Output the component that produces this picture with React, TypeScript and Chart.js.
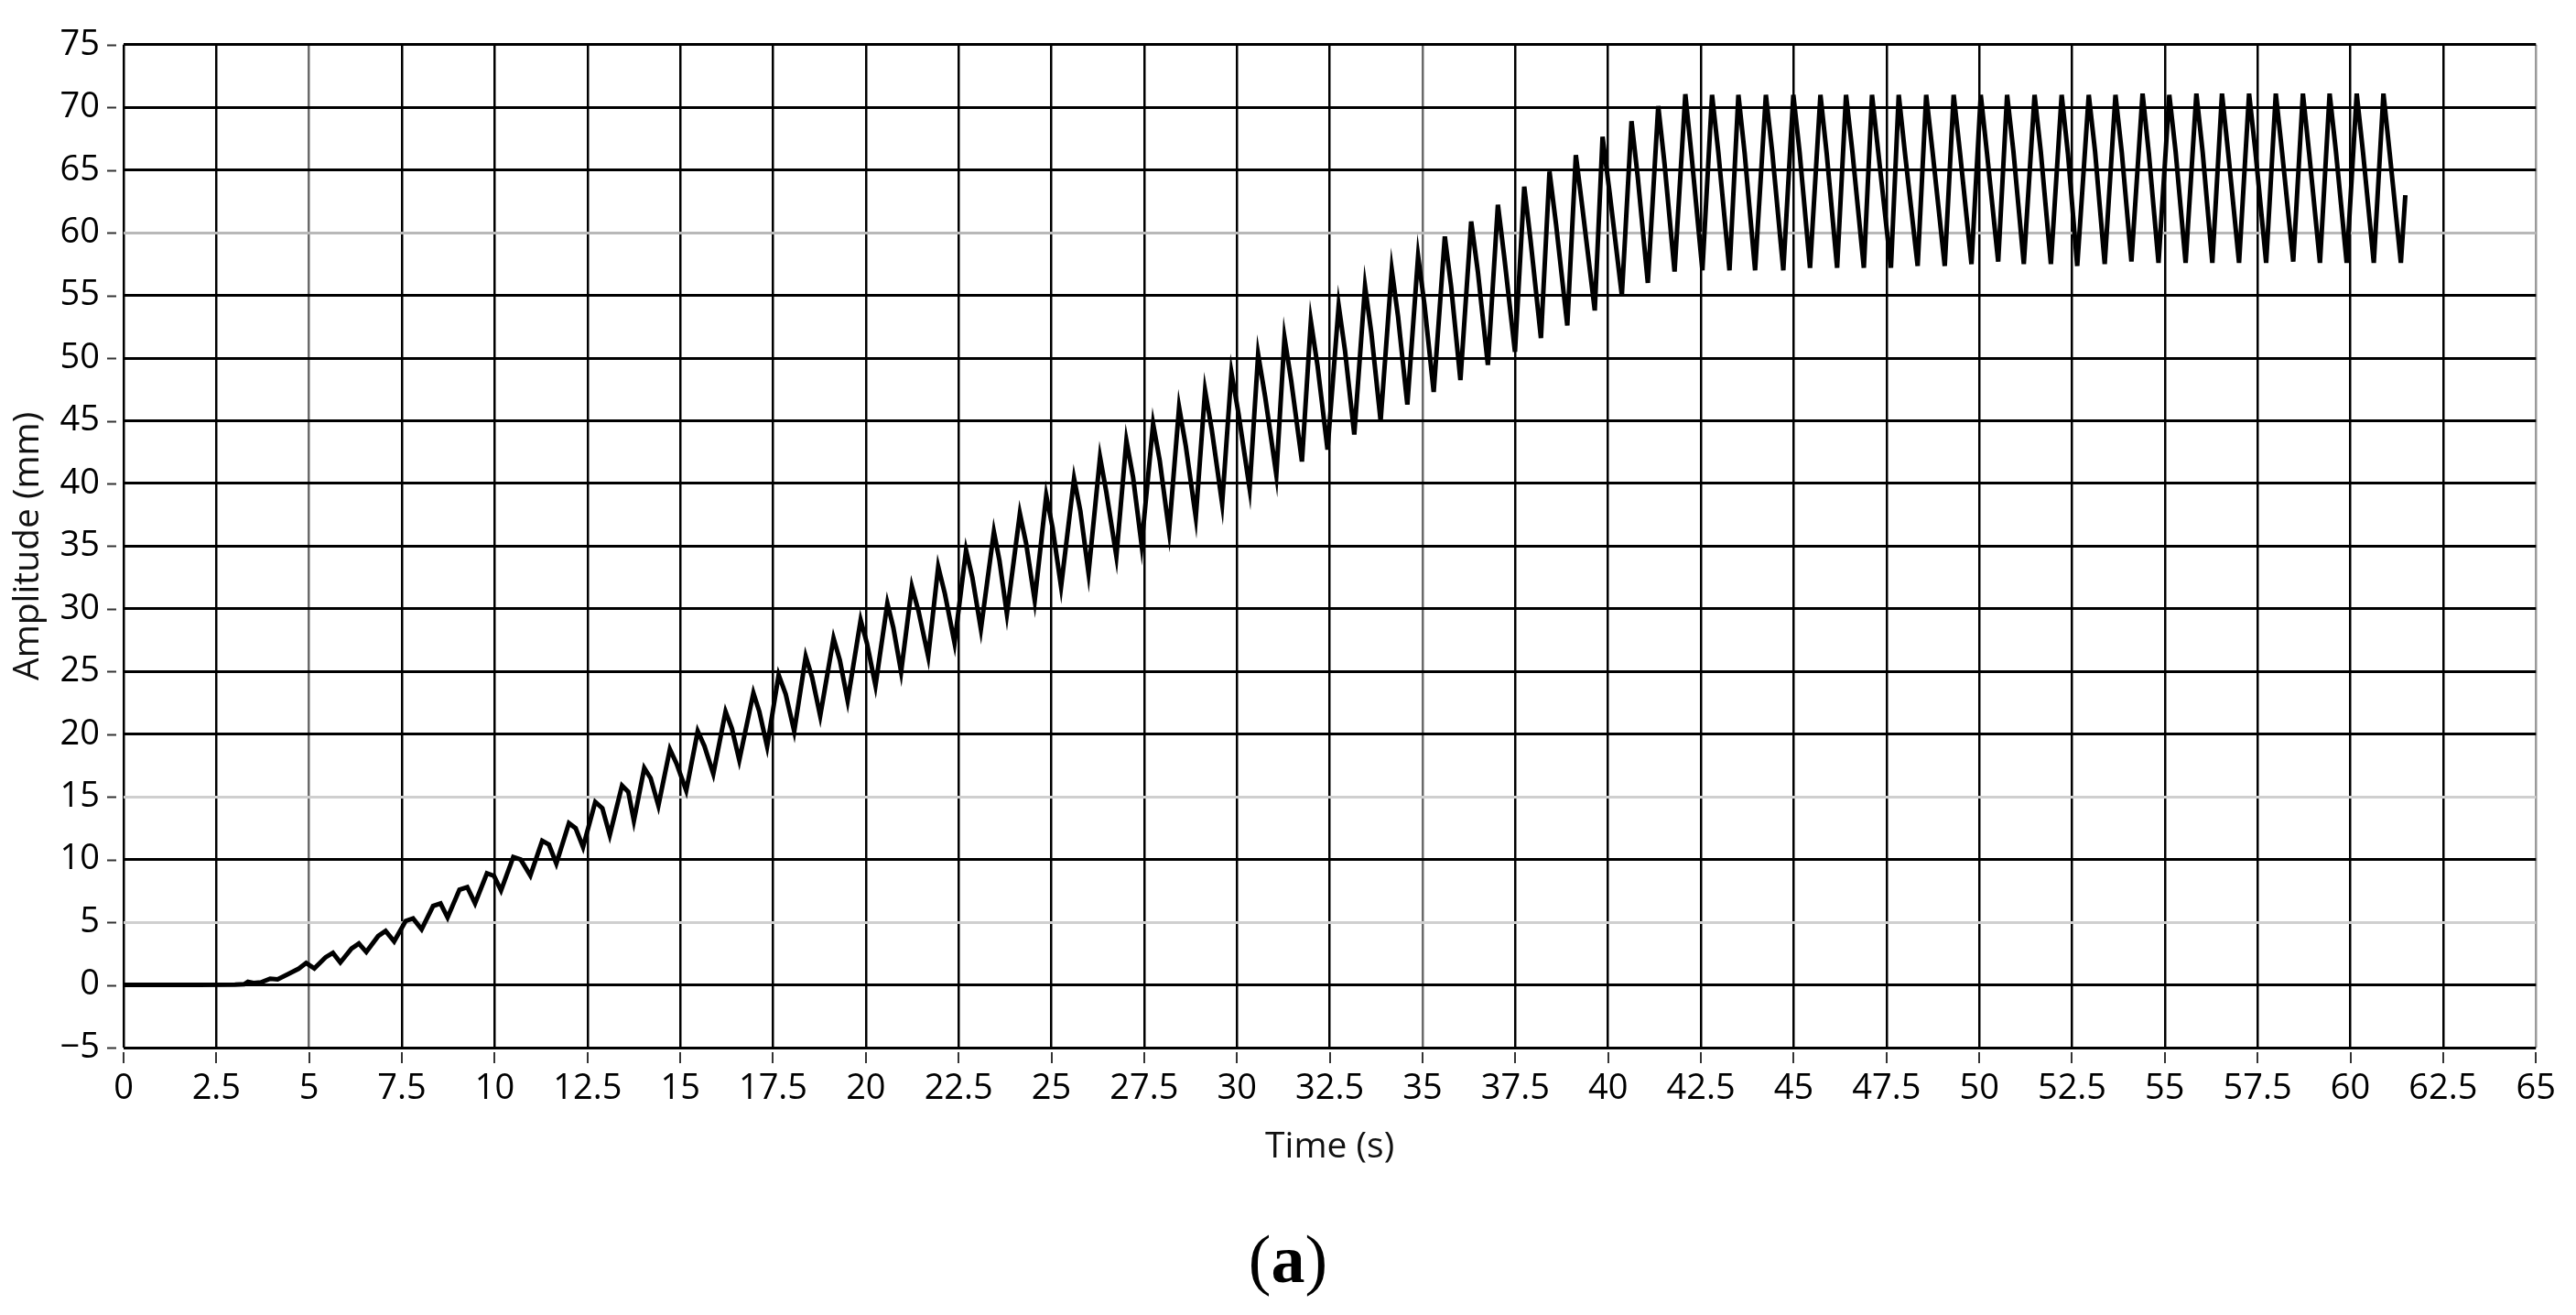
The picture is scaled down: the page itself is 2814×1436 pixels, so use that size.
import React, { useEffect, useRef } from 'react';
import { Chart, registerables } from 'chart.js';

Chart.register(...registerables);

// ---- axis ticks ----
const xTickValues = [0, 2.5, 5, 7.5, 10, 12.5, 15, 17.5, 20, 22.5, 25, 27.5, 30, 32.5, 35, 37.5, 40, 42.5, 45, 47.5, 50, 52.5, 55, 57.5, 60, 62.5, 65];
const xTickLabels = ['0', '2.5', '5', '7.5', '10', '12.5', '15', '17.5', '20', '22.5', '25', '27.5', '30', '32.5', '35', '37.5', '40', '42.5', '45', '47.5', '50', '52.5', '55', '57.5', '60', '62.5', '65'];
const yTickValues = [-5, 0, 5, 10, 15, 20, 25, 30, 35, 40, 45, 50, 55, 60, 65, 70, 75];
const yTickLabels = ['\u22125', '0', '5', '10', '15', '20', '25', '30', '35', '40', '45', '50', '55', '60', '65', '70', '75'];

// ---- signal (vertices: trough, peak, shoulder per cycle) ----
const onsetTime = [0, 1, 2, 3, 3.25, 3.35, 3.5, 3.7, 3.95, 4.15, 4.42, 4.72, 4.92];
const onsetAmp = [0, 0, 0, 0.02, 0.05, 0.25, 0.15, 0.2, 0.5, 0.45, 0.85, 1.3, 1.75];

const growthTime = [
  5.14, 5.44, 5.64, 5.84, 6.14, 6.34, 6.54, 6.86, 7.06, 7.29, 7.6, 7.8,
  8.03, 8.34, 8.54, 8.73, 9.05, 9.26, 9.47, 9.79, 9.98, 10.17, 10.5, 10.7,
  10.96, 11.28, 11.46, 11.66, 12.0, 12.18, 12.38, 12.71, 12.9, 13.1, 13.43, 13.6,
  13.75, 14.03, 14.2, 14.41, 14.72, 14.9, 15.16, 15.47, 15.65, 15.89, 16.22, 16.39,
  16.59, 16.97, 17.13, 17.34, 17.65, 17.84, 18.07, 18.38, 18.55, 18.77, 19.13, 19.3,
  19.51, 19.86, 20.03, 20.26, 20.58, 20.74, 20.95, 21.24, 21.42, 21.68, 21.95, 22.13,
  22.39, 22.7, 22.87, 23.1, 23.45, 23.6, 23.8, 24.15, 24.32, 24.55, 24.86, 25.03,
  25.26, 25.61, 25.78, 26.0, 26.31, 26.48, 26.75, 27.02, 27.2,
];
const growthAmp = [
  1.32, 2.2, 2.55, 1.79, 2.9, 3.3, 2.63, 3.9, 4.3, 3.47, 5.1, 5.3,
  4.43, 6.3, 6.5, 5.38, 7.6, 7.8, 6.51, 8.9, 8.7, 7.54, 10.2, 10.0,
  8.73, 11.5, 11.2, 9.69, 12.9, 12.5, 11.0, 14.6, 14.1, 11.96, 15.9, 15.4,
  13.1, 17.3, 16.5, 14.3, 18.8, 17.65, 15.5, 20.24, 19.05, 16.84, 21.8, 20.45,
  17.94, 23.28, 21.8, 19.03, 24.73, 23.2, 20.24, 26.2, 24.55, 21.46, 27.65, 25.9,
  22.67, 29.1, 27.25, 23.88, 30.44, 28.5, 24.98, 31.77, 29.8, 26.19, 33.35, 31.2,
  27.28, 34.68, 32.5, 28.37, 36.14, 33.85, 29.59, 37.6, 35.2, 30.68, 39.05, 36.5,
  31.77, 40.39, 37.8, 32.86, 42.09, 39.3, 34.2, 43.42, 40.5,
];

const riseTime = [
  27.43, 27.74, 27.92, 28.17, 28.44, 28.62, 28.89, 29.14, 29.32, 29.6, 29.85, 30.04,
  30.34, 30.57, 30.76, 31.06, 31.28, 31.46, 31.75, 31.99, 32.17, 32.44, 32.74, 32.91,
  33.16, 33.45, 33.62, 33.87, 34.17, 34.34, 34.59, 34.88, 35.05, 35.3, 35.6, 35.77,
  36.02, 36.31, 36.49, 36.76, 37.03, 37.2, 37.49, 37.74, 37.91, 38.19, 38.42, 38.6,
  38.9, 39.13, 39.31, 39.64, 39.85, 40.04,
];
const riseAmp = [
  35.1, 44.76, 41.8, 36.2, 46.08, 43.0, 37.3, 47.41, 44.3, 38.4, 48.86, 45.6,
  39.6, 50.3, 46.9, 40.7, 51.63, 48.2, 41.75, 52.95, 49.4, 42.7, 54.2, 50.6,
  43.9, 55.72, 52.0, 45.0, 57.05, 53.3, 46.3, 58.13, 54.3, 47.3, 59.7, 55.7,
  48.25, 60.9, 56.9, 49.45, 62.23, 58.1, 50.5, 63.67, 59.4, 51.6, 64.88, 60.6,
  52.6, 66.2, 61.9, 53.8, 67.65, 63.2,
];

const plateauTime = [
  40.37, 40.63, 40.8, 41.07, 41.35, 41.52, 41.79, 42.08, 42.25, 42.54, 42.8, 42.97,
  43.27, 43.51, 43.68, 43.96, 44.25, 44.42, 44.72, 44.99, 45.16, 45.44, 45.72, 45.89,
  46.17, 46.41, 46.58, 46.89, 47.11, 47.28, 47.62, 47.83, 48.0, 48.34, 48.57, 48.74,
  49.07, 49.31, 49.48, 49.79, 50.04, 50.21, 50.51, 50.75, 50.92, 51.2, 51.49, 51.66,
  51.93, 52.22, 52.39, 52.64, 52.95, 53.12, 53.38, 53.67, 53.84, 54.1, 54.4, 54.57,
  54.83, 55.12, 55.29, 55.56, 55.85, 56.02, 56.28, 56.54, 56.71, 57.0, 57.27, 57.44,
  57.73, 57.99, 58.16, 58.46, 58.72, 58.89, 59.18, 59.44, 59.61, 59.9, 60.17, 60.34,
  60.63, 60.89, 61.06, 61.36, 61.48,
];
const plateauAmp = [
  55.0, 68.9, 64.4, 56.0, 70.1, 65.5, 56.9, 71.05, 66.1, 57.0, 71.0, 66.4,
  57.0, 71.0, 66.3, 57.0, 71.0, 66.5, 57.0, 71.0, 66.4, 57.2, 71.0, 66.3,
  57.2, 71.0, 66.5, 57.2, 71.0, 66.4, 57.2, 71.0, 66.3, 57.35, 71.0, 66.5,
  57.35, 71.0, 66.4, 57.5, 71.0, 66.3, 57.7, 71.0, 66.5, 57.5, 71.0, 66.4,
  57.5, 71.0, 66.3, 57.35, 71.0, 66.5, 57.5, 71.0, 66.4, 57.7, 71.1, 66.3,
  57.6, 71.0, 66.5, 57.6, 71.1, 66.4, 57.6, 71.1, 66.3, 57.6, 71.1, 66.5,
  57.6, 71.1, 66.4, 57.7, 71.1, 66.3, 57.6, 71.1, 66.5, 57.6, 71.1, 66.4,
  57.6, 71.1, 66.3, 57.6, 63.0,
];

function toPoints(ts: number[], vs: number[]) {
  const n = Math.min(ts.length, vs.length);
  const out: { x: number; y: number }[] = [];
  for (let i = 0; i < n; i++) out.push({ x: ts[i], y: vs[i] });
  return out;
}

const FONT = '"Open Sans", "Noto Sans", sans-serif';

export default function App() {
  const ref = useRef<HTMLCanvasElement>(null);

  useEffect(() => {
    const canvas = ref.current;
    if (!canvas) return;

    const points = [
      ...toPoints(onsetTime, onsetAmp),
      ...toPoints(growthTime, growthAmp),
      ...toPoints(riseTime, riseAmp),
      ...toPoints(plateauTime, plateauAmp),
    ];

    const tickMarks = {
      id: 'tickMarks',
      afterDraw(chart: any) {
        const { ctx, chartArea, scales } = chart;
        ctx.save();
        ctx.strokeStyle = '#333';
        ctx.lineWidth = 2;
        ctx.beginPath();
        for (const v of yTickValues) {
          const y = Math.round(scales.y.getPixelForValue(v)) + 0.5;
          ctx.moveTo(chartArea.left - 18, y);
          ctx.lineTo(chartArea.left - 8, y);
        }
        for (const v of xTickValues) {
          const x = Math.round(scales.x.getPixelForValue(v));
          ctx.moveTo(x, chartArea.bottom + 5);
          ctx.lineTo(x, chartArea.bottom + 17);
        }
        ctx.stroke();
        ctx.restore();
      },
    };

    const hColor = (v: number) => {
      if (v === 60) return '#b8b8b8';
      if (v === 15 || v === 5) return '#cfcfcf';
      return '#000';
    };
    const vColor = (v: number) => {
      if (v === 5 || v === 35) return '#6a6a6a';
      if (v === 65) return '#9a9a9a';
      return '#000';
    };

    const chart = new Chart(canvas, {
      type: 'line',
      data: {
        datasets: [
          {
            data: points,
            borderColor: '#000',
            borderWidth: 5,
            pointRadius: 0,
            tension: 0,
            fill: false,
            borderJoinStyle: 'miter',
          } as any,
        ],
      },
      options: {
        animation: false,
        responsive: false,
        maintainAspectRatio: false,
        layout: { padding: { left: 0, top: 34, right: 34, bottom: 142 } },
        plugins: {
          legend: { display: false },
          tooltip: { enabled: false },
        },
        scales: {
          x: {
            type: 'linear',
            min: 0,
            max: 65,
            afterBuildTicks: (s: any) => {
              s.ticks = xTickValues.map((v) => ({ value: v }));
            },
            afterFit: (s: any) => {
              s.height = 150;
            },
            grid: {
              drawTicks: false,
              lineWidth: 2.5,
              color: (c: any) => vColor(c.tick ? c.tick.value : 0),
            },
            border: { display: false },
            ticks: {
              autoSkip: false,
              maxRotation: 0,
              minRotation: 0,
              padding: 22,
              color: '#000',
              font: { family: FONT, size: 38 },
              callback: (_v: any, i: number) => xTickLabels[i],
            },
            title: {
              display: true,
              text: 'Time (s)',
              color: '#111',
              font: { family: FONT, size: 39 },
              padding: { top: 0, bottom: 18 },
            },
          },
          y: {
            type: 'linear',
            min: -5,
            max: 75,
            afterBuildTicks: (s: any) => {
              s.ticks = yTickValues.map((v) => ({ value: v }));
            },
            afterFit: (s: any) => {
              s.width = 135;
            },
            grid: {
              drawTicks: false,
              lineWidth: 3,
              color: (c: any) => hColor(c.tick ? c.tick.value : 0),
            },
            border: { display: false },
            ticks: {
              autoSkip: false,
              padding: 26,
              color: '#000',
              font: { family: FONT, size: 38 },
              callback: (_v: any, i: number) => yTickLabels[i],
            },
            title: {
              display: true,
              text: 'Amplitude (mm)',
              color: '#111',
              font: { family: FONT, size: 39 },
              padding: { top: 7, bottom: 0 },
            },
          },
        },
      },
      plugins: [tickMarks],
    } as any);

    return () => chart.destroy();
  }, []);

  return (
    <div style={{ position: 'absolute', left: 0, top: 0, width: 2814, height: 1436, background: '#fff' }}>
      <canvas ref={ref} width={2814} height={1436} style={{ display: 'block', width: 2814, height: 1436 }} />
      <div
        style={{
          position: 'absolute',
          left: 0,
          top: 1336,
          width: 2814,
          textAlign: 'center',
          fontFamily: '"Liberation Serif", "DejaVu Serif", serif',
          fontSize: 74,
          lineHeight: '78px',
          color: '#000',
        }}
      >
        (<b>a</b>)
      </div>
    </div>
  );
}
